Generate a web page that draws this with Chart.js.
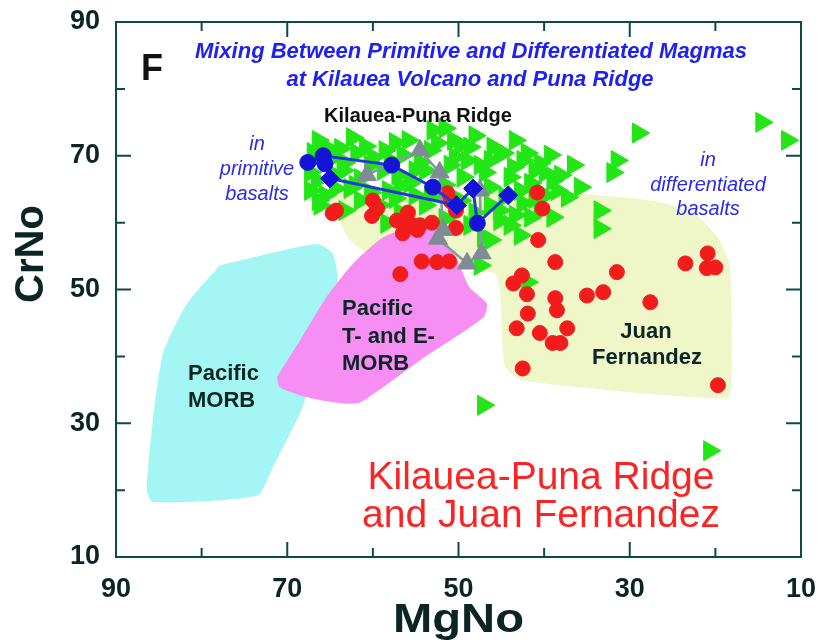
<!DOCTYPE html>
<html>
<head>
<meta charset="utf-8">
<title>CrNo vs MgNo</title>
<script src="https://cdn.jsdelivr.net/npm/chart.js@4.4.0/dist/chart.umd.min.js"></script>
<style>
  html, body { margin: 0; padding: 0; background: #ffffff; }
  #chart { display: block; }
</style>
</head>
<body>
<canvas id="chart" width="823" height="643"></canvas>
<script>
// ----------------- Ejes -----------------

const xTickLabels = [90, 70, 50, 30, 10];
const yTickLabels = [90, 70, 50, 30, 10];
const tickMarks = [80, 70, 60, 50, 40, 30, 20];
const majorTickMarks = [70, 50, 30];

// ----------------- Campos (poligonos) -----------------

// Pacific MORB
const pacificMorbMg = [77.9, 66.6, 64.7, 64.1, 66.2, 68.2, 71.7, 73.5, 85.7, 86.4, 85.7, 84.5, 81.7];
const pacificMorbCr = [53.6, 56.8, 55.4, 50.9, 41.4, 32.4, 23.4, 19.2, 18.2, 20.0, 30.4, 40.5, 47.9];

// Pacific T- and E-MORB
const teMorbMg = [71.2, 70.9, 67.7, 63.8, 61.5, 54.5, 47.1, 46.7, 48.7, 50.4, 52.7, 55.7, 58.8, 62.3, 65.4, 68.5];
const teMorbCr = [36.9, 35.4, 33.9, 33.0, 33.1, 39.4, 45.8, 47.9, 50.3, 55.1, 58.9, 59.2, 57.8, 53.9, 48.9, 42.4];

// Juan Fernandez (campo)
const juanFieldMg = [65.0, 62.7, 56.8, 48.7, 45.5, 44.6, 42.6, 18.6, 18.1, 18.3, 19.7, 22.6, 27.6, 38.2, 54.5, 63.8];
const juanFieldCr = [63.8, 57.4, 52.9, 52.9, 52.1, 38.7, 36.4, 33.7, 36.4, 53.6, 57.7, 61.5, 63.3, 64.5, 64.5, 64.4];

// ----------------- Muestras -----------------

// Kilauea-Puna Ridge (triangulos verdes)
const kilaueaMg = [
  65.9, 63.8, 62.4, 60.9, 57.4, 53.0, 52.5, 50.6, 48.7, 46.0, 45.2, 42.0, 29.0, 14.6, 11.6,
  66.8, 65.2, 63.3, 61.9, 60.0, 58.0, 56.5, 54.5, 49.0, 47.5, 44.8, 42.5, 40.5, 36.6, 31.5,
  67.3, 66.5, 63.5, 61.5, 58.8, 57.1, 55.7, 53.9, 49.5, 46.9, 44.0, 41.6, 39.9, 32.0,
  67.3, 65.6, 62.7, 60.3, 58.2, 55.1, 52.2, 46.3, 44.6, 42.8, 41.1, 38.5, 37.3, 35.8,
  66.2, 63.3, 59.2, 56.8, 53.9, 48.1, 45.2, 42.5, 40.5, 39.0, 33.5,
  58.4, 51.6, 48.7, 47.1, 45.2, 42.8, 41.6, 33.5,
  47.5, 47.1, 20.7, 42.0,
  67.0, 50.4, 51.6, 57.4, 61.5, 64.4, 53.3, 43.6, 39.0, 49.8, 46.3, 43.4,
  66.4, 65.0, 64.4, 66.4, 62.1, 60.3, 58.6, 55.9, 55.1, 51.0, 49.8, 48.1, 46.3, 43.4,
  41.1, 39.3, 38.1, 39.9, 44.0, 46.3, 56.8, 53.3, 51.6
];
const kilaueaCr = [
  71.6, 71.1, 72.7, 71.4, 72.0, 73.8, 71.9, 72.3, 71.3, 71.3, 70.5, 70.4, 73.4, 75.0, 72.3,
  69.6, 69.3, 69.0, 70.4, 69.8, 69.3, 70.1, 69.0, 69.3, 68.6, 70.4, 69.3, 68.9, 68.6, 69.3,
  67.5, 66.3, 67.8, 66.6, 67.8, 67.1, 65.9, 67.8, 66.8, 67.5, 66.8, 65.9, 67.5, 67.5,
  64.8, 64.1, 65.1, 64.5, 64.8, 64.1, 64.5, 65.3, 63.9, 64.8, 63.6, 64.8, 63.8, 65.3,
  62.6, 61.8, 62.6, 61.5, 62.6, 61.5, 61.8, 62.9, 61.8, 60.8, 61.8,
  59.9, 60.6, 59.6, 57.8, 60.3, 58.1, 60.8, 59.1,
  53.6, 32.7, 25.9, 51.1,
  70.5, 69.8, 65.6, 63.6, 63.3, 65.1, 70.8, 68.3, 66.3, 63.3, 62.6, 61.1,
  72.3, 70.8, 67.1, 63.3, 65.6, 68.6, 70.8, 72.3, 67.8, 68.6, 71.6, 73.0, 69.3, 72.3,
  67.8, 70.1, 67.1, 64.1, 59.6, 57.4, 65.6, 64.1, 74.1
];

// Juan Fernandez (circulos rojos)
const juanFernandezMg = [
  64.7, 64.3, 60.0, 59.5, 60.1, 57.2, 55.9, 55.7, 54.5, 56.5, 54.8, 53.1, 51.3, 50.9, 50.3, 50.3,
  40.8, 40.2, 40.7, 54.3, 52.5, 51.1, 56.8, 43.6, 42.6, 42.0, 38.7, 31.5, 35.0, 33.1, 27.6,
  23.5, 20.9, 21.0, 20.0, 38.7, 38.5, 37.3, 38.1, 39.0, 40.5, 41.9, 43.2, 42.5, 19.7
];
const juanFernandezCr = [
  61.4, 61.8, 63.3, 62.1, 61.0, 60.3, 61.5, 59.9, 59.6, 58.4, 58.9, 60.0, 64.4, 63.2, 61.8, 59.2,
  64.5, 62.1, 57.4, 54.2, 54.1, 54.2, 52.3, 50.9, 52.1, 49.3, 54.1, 52.6, 49.1, 49.6, 48.1,
  53.9, 55.4, 53.2, 53.3, 48.7, 46.9, 44.2, 42.0, 42.0, 43.5, 46.4, 44.2, 38.2, 35.7
];

// Mezcla (triangulos grises)
const mixGrayMg = [60.7, 54.5, 52.2, 51.8, 52.4, 49.0, 47.3, 47.5];
const mixGrayCr = [67.1, 70.8, 67.5, 58.9, 57.6, 53.9, 55.4, 64.8];

// Mezcla (circulos y rombos azules)
const mixBlueMg = [50.2, 65.0, 65.6, 67.6, 65.8, 57.8, 53.0, 50.2, 48.3, 47.8, 44.2];
const mixBlueCr = [62.6, 66.6, 68.8, 69.0, 70.0, 68.6, 65.3, 62.6, 65.1, 59.9, 64.1];
const mixBlueShape = ['rectRot', 'rectRot', 'circle', 'circle', 'circle', 'circle', 'circle', 'rectRot', 'rectRot', 'circle', 'rectRot'];

// ----------------- Estilos -----------------

const FONT = '"Liberation Sans", Arial, sans-serif';
const axisColor = '#0e4a45';
const textDark = '#0b2424';

const palette = {
  cyan: '#a3f6f3',
  pink: '#f68ef4',
  yellow: '#eff7c9',
  green: '#22e615',
  red: '#f31c1c',
  gray: '#7f8c96',
  grayLine: '#8797a3',
  blue: '#1414d6',
  blueLine: '#2238d4'
};

function toPoints(xs, ys) {
  return xs.map((x, i) => ({ x, y: ys[i] }));
}

function closedShape(xs, ys) {
  const pts = toPoints(xs, ys);
  pts.push({ ...pts[0] });
  return pts;
}

function shapeDataset(label, xs, ys, color, order) {
  return {
    label,
    data: closedShape(xs, ys),
    showLine: true,
    fill: 'shape',
    backgroundColor: color,
    borderColor: 'transparent',
    borderWidth: 0,
    pointRadius: 0,
    tension: 0.2,
    order
  };
}

// ----------------- Plugin: marco, marcas y textos -----------------

function drawText(ctx, text, x, y, font, color, align = 'center') {
  ctx.font = font;
  ctx.fillStyle = color;
  ctx.textAlign = align;
  ctx.textBaseline = 'middle';
  ctx.fillText(text, x, y);
}

const framePlugin = {
  id: 'frame',
  afterDraw(chart) {
    const { ctx, chartArea: a } = chart;
    const xs = chart.scales.x;
    const ys = chart.scales.y;
    ctx.save();

    // textos
    drawText(ctx, 'F', 152, 70, `bold 36px ${FONT}`, '#111111');
    drawText(ctx, 'Mixing Between Primitive and Differentiated Magmas', 471, 52, `italic bold 22px ${FONT}`, '#1e22f0');
    drawText(ctx, 'at Kilauea Volcano and Puna Ridge', 470, 80, `italic bold 22px ${FONT}`, '#1e22f0');
    drawText(ctx, 'Kilauea-Puna Ridge', 418, 116, `bold 20px ${FONT}`, '#111111');

    drawText(ctx, 'in', 257, 144, `italic 20px ${FONT}`, '#2a2aee');
    drawText(ctx, 'primitive', 257, 169, `italic 20px ${FONT}`, '#2a2aee');
    drawText(ctx, 'basalts', 257, 194, `italic 20px ${FONT}`, '#2a2aee');

    drawText(ctx, 'in', 708, 160, `italic 20px ${FONT}`, '#2a2aee');
    drawText(ctx, 'differentiated', 708, 185, `italic 20px ${FONT}`, '#2a2aee');
    drawText(ctx, 'basalts', 708, 209, `italic 20px ${FONT}`, '#2a2aee');

    drawText(ctx, 'Pacific', 188, 374, `bold 22px ${FONT}`, textDark, 'left');
    drawText(ctx, 'MORB', 188, 401, `bold 22px ${FONT}`, textDark, 'left');

    drawText(ctx, 'Pacific', 342, 309, `bold 22px ${FONT}`, textDark, 'left');
    drawText(ctx, 'T- and E-', 342, 337, `bold 22px ${FONT}`, textDark, 'left');
    drawText(ctx, 'MORB', 342, 364, `bold 22px ${FONT}`, textDark, 'left');

    drawText(ctx, 'Juan', 646, 332, `bold 22px ${FONT}`, textDark);
    drawText(ctx, 'Fernandez', 647, 358, `bold 22px ${FONT}`, textDark);

    drawText(ctx, 'Kilauea-Puna Ridge', 541, 478, `39px ${FONT}`, '#fa2424');
    drawText(ctx, 'and Juan Fernandez', 541, 516, `39px ${FONT}`, '#fa2424');

    // titulos de ejes
    ctx.font = `bold 40px ${FONT}`;
    ctx.fillStyle = textDark;
    ctx.textAlign = 'center';
    ctx.textBaseline = 'alphabetic';
    ctx.save();
    ctx.translate((a.left + a.right) / 2, 632);
    ctx.scale(1.18, 1);
    ctx.fillText('MgNo', 0, 0);
    ctx.restore();
    ctx.save();
    ctx.translate(43, 254);
    ctx.rotate(-Math.PI / 2);
    ctx.fillText('CrNo', 0, 0);
    ctx.restore();

    // marco
    ctx.strokeStyle = axisColor;
    ctx.lineWidth = 2;
    ctx.strokeRect(a.left, a.top, a.right - a.left, a.bottom - a.top);

    // marcas hacia adentro
    ctx.beginPath();
    tickMarks.forEach(v => {
      const len = majorTickMarks.includes(v) ? 15 : 9;
      const px = xs.getPixelForValue(v);
      const py = ys.getPixelForValue(v);
      ctx.moveTo(px, a.bottom); ctx.lineTo(px, a.bottom - len);
      ctx.moveTo(px, a.top); ctx.lineTo(px, a.top + len);
      ctx.moveTo(a.left, py); ctx.lineTo(a.left + len, py);
      ctx.moveTo(a.right, py); ctx.lineTo(a.right - len, py);
    });
    ctx.stroke();
    ctx.restore();
  }
};

// ----------------- Grafico -----------------

function initChart() {
  const ctx = document.getElementById('chart').getContext('2d');

  new Chart(ctx, {
    type: 'scatter',
    data: {
      datasets: [
        {
          label: 'Mixing (blue)',
          data: toPoints(mixBlueMg, mixBlueCr),
          showLine: true,
          borderColor: palette.blueLine,
          borderWidth: 3,
          pointStyle: mixBlueShape,
          pointRadius: mixBlueShape.map(s => (s === 'rectRot' ? 9.5 : 8)),
          pointBackgroundColor: palette.blue,
          pointBorderColor: palette.blue,
          pointBorderWidth: 1,
          order: 0
        },
        {
          label: 'Mixing (gray)',
          data: toPoints(mixGrayMg, mixGrayCr),
          showLine: true,
          borderColor: palette.grayLine,
          borderWidth: 2.5,
          pointStyle: 'triangle',
          pointRadius: 11,
          pointBackgroundColor: palette.gray,
          pointBorderColor: palette.gray,
          pointBorderWidth: 1,
          order: 1
        },
        {
          label: 'Juan Fernandez',
          data: toPoints(juanFernandezMg, juanFernandezCr),
          pointStyle: 'circle',
          pointRadius: 7.5,
          pointBackgroundColor: palette.red,
          pointBorderColor: palette.red,
          pointBorderWidth: 1,
          order: 2
        },
        {
          label: 'Kilauea-Puna Ridge',
          data: toPoints(kilaueaMg, kilaueaCr),
          pointStyle: 'triangle',
          pointRotation: 90,
          pointRadius: 11.5,
          pointBackgroundColor: palette.green,
          pointBorderColor: palette.green,
          pointBorderWidth: 1,
          order: 3
        },
        shapeDataset('Pacific T- and E-MORB', teMorbMg, teMorbCr, palette.pink, 4),
        shapeDataset('Pacific MORB', pacificMorbMg, pacificMorbCr, palette.cyan, 5),
        shapeDataset('Juan Fernandez field', juanFieldMg, juanFieldCr, palette.yellow, 6)
      ]
    },
    options: {
      responsive: false,
      animation: false,
      layout: {
        padding: { top: 22, right: 22, left: 0, bottom: 0 }
      },
      plugins: {
        legend: { display: false },
        tooltip: { enabled: false }
      },
      scales: {
        x: {
          type: 'linear',
          min: 10,
          max: 90,
          reverse: true,
          afterFit: (scale) => {
            scale.height = 86;
            scale.paddingLeft = 0;
            scale.paddingRight = 0;
          },
          afterBuildTicks: (scale) => { scale.ticks = xTickLabels.map(v => ({ value: v })); },
          grid: { display: false, drawTicks: false },
          border: { display: false },
          ticks: {
            padding: 16,
            maxRotation: 0,
            autoSkip: false,
            color: textDark,
            font: { family: FONT, size: 27, weight: 'bold' }
          }
        },
        y: {
          type: 'linear',
          min: 10,
          max: 90,
          afterFit: (scale) => {
            scale.width = 116;
            scale.paddingTop = 0;
            scale.paddingBottom = 0;
          },
          afterBuildTicks: (scale) => { scale.ticks = yTickLabels.map(v => ({ value: v })); },
          grid: { display: false, drawTicks: false },
          border: { display: false },
          ticks: {
            padding: 16,
            autoSkip: false,
            color: textDark,
            font: { family: FONT, size: 27, weight: 'bold' }
          }
        }
      }
    },
    plugins: [framePlugin]
  });
}

document.addEventListener('DOMContentLoaded', initChart);
</script>
</body>
</html>
